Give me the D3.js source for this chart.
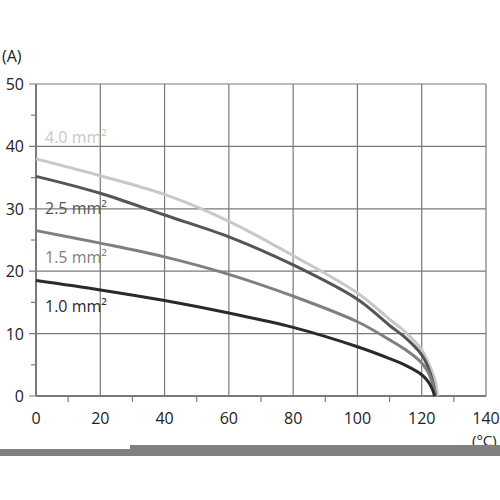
<!DOCTYPE html>
<html><head><meta charset="utf-8">
<script src="https://cdn.jsdelivr.net/npm/d3@7"></script>
<style>body{margin:0;background:#fff}text{font-family:"Open Sans","Noto Sans",sans-serif}</style>
</head><body><svg id="c" width="500" height="500"></svg>
<script>
'use strict'
var t40 = [0, 20, 40, 60, 80, 100, 110, 115, 120, 122, 124, 125];
var s40 = [38, 35.3, 32.3, 28, 22.5, 16.5, 12.3, 10.2, 7.4, 5.4, 2.8, 0];
var t25 = [0, 20, 40, 60, 80, 100, 110, 115, 120, 122, 123.5, 124.3];
var s25 = [35.2, 32.5, 29, 25.5, 21, 15.5, 11.3, 9.3, 6.6, 4.6, 2.2, 0];
var t15 = [0, 20, 40, 60, 80, 100, 110, 115, 120, 122, 123.5, 124.3];
var s15 = [26.5, 24.5, 22.3, 19.5, 16, 11.9, 9, 7.4, 5.3, 3.8, 1.8, 0];
var t10 = [0, 20, 40, 60, 80, 100, 110, 115, 120, 122, 123.3, 124];
var s10 = [18.5, 17, 15.3, 13.3, 11, 7.9, 6, 4.9, 3.4, 2.3, 1.1, 0];
var labels = ["4.0 mm²", "2.5 mm²", "1.5 mm²", "1.0 mm²"];
var labelY = [40.5, 29.2, 21.3, 13.4];
var colors = ["#c8c8c8", "#555", "#808080", "#2a2a2a"];
var xTicks = [0, 20, 40, 60, 80, 100, 120, 140];
var yTicks = [0, 10, 20, 30, 40, 50];

var svg = d3.select("#c");
var x = d3.scaleLinear().domain([0, 140]).range([36, 486]);
var y = d3.scaleLinear().domain([0, 50]).range([396, 84]);
var grid = "#7a7a7a";

xTicks.forEach(function(t){
	svg.append("line").attr("x1", x(t)).attr("x2", x(t)).attr("y1", y(0)).attr("y2", y(50)).attr("stroke", grid).attr("stroke-width", 1.2);
	svg.append("text").attr("x", x(t)).attr("y", 424).attr("text-anchor", "middle").attr("font-size", 16).attr("fill", "#222").text(t);
});
yTicks.forEach(function(t){
	svg.append("line").attr("x1", 29).attr("x2", x(140)).attr("y1", y(t)).attr("y2", y(t)).attr("stroke", grid).attr("stroke-width", 1.2);
	svg.append("text").attr("x", 24).attr("y", y(t) + 6).attr("text-anchor", "end").attr("font-size", 16).attr("fill", "#222").text(t);
});
d3.range(10, 140, 20).forEach(function(t){
	svg.append("line").attr("x1", x(t)).attr("x2", x(t)).attr("y1", y(0)).attr("y2", y(0) + 6).attr("stroke", grid).attr("stroke-width", 1.2);
});
d3.range(5, 50, 10).forEach(function(t){
	svg.append("line").attr("x1", 31).attr("x2", x(0)).attr("y1", y(t)).attr("y2", y(t)).attr("stroke", grid).attr("stroke-width", 1.2);
});
svg.append("line").attr("x1", x(0)).attr("x2", x(0)).attr("y1", y(0)).attr("y2", y(50)).attr("stroke", grid).attr("stroke-width", 2);
svg.append("line").attr("x1", x(0)).attr("x2", x(140)).attr("y1", y(0)).attr("y2", y(0)).attr("stroke", grid).attr("stroke-width", 2);

svg.append("text").attr("x", 2).attr("y", 62).attr("font-size", 16).attr("fill", "#222").text("(A)");
svg.append("text").attr("x", 472).attr("y", 446).attr("font-size", 15).attr("fill", "#222").text("(°C)");
svg.append("rect").attr("x", 0).attr("y", 449).attr("width", 132).attr("height", 7).attr("fill", "#808080");
svg.append("rect").attr("x", 130).attr("y", 445).attr("width", 370).attr("height", 11).attr("fill", "#808080");

var line = d3.line()
	.x(function(d){ return x(d[0]); }).y(function(d){ return y(d[1]); })
	.curve(d3.curveCatmullRom.alpha(0.5));
[[t40, s40], [t25, s25], [t15, s15], [t10, s10]].forEach(function(s, i){
	svg.append("path").datum(s[0].map(function(t, j){ return [t, s[1][j]]; }))
		.attr("d", line).attr("fill", "none").attr("stroke", colors[i]).attr("stroke-width", 3);
	svg.append("text").attr("x", 45).attr("y", y(labelY[i])).attr("font-size", 16)
		.attr("fill", colors[i]).text(labels[i]);
});
</script></body></html>
